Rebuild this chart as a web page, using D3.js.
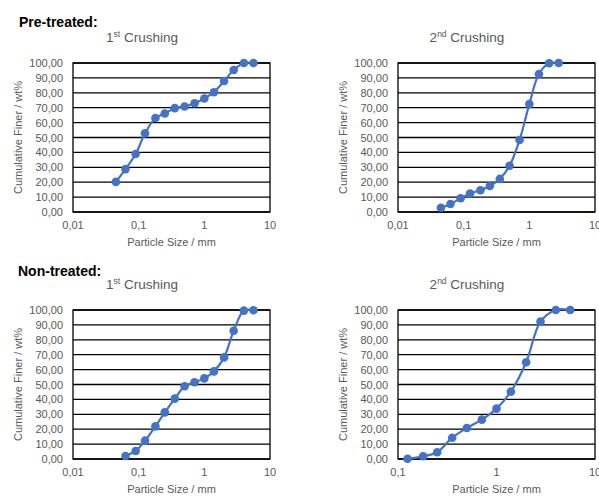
<!DOCTYPE html>
<html>
<head>
<meta charset="utf-8">
<script src="https://cdn.jsdelivr.net/npm/d3@7"></script>
<style>
  body { margin: 0; background: #fff; }
  text { font-family: "Liberation Sans", Arial, sans-serif; }
</style>
</head>
<body>
<div class="sieve"></div>
<script>
var width = 599,
    height = 498,
    plotW = 197,
    plotH = 149;

// sieve sizes (mm) and cumulative finer (wt%) for each panel
var pre1Size = [0.045, 0.063, 0.09, 0.125, 0.18, 0.25, 0.355, 0.5, 0.71, 1, 1.4, 2, 2.8, 4, 5.6];
var pre1Val  = [20.2, 28.8, 38.9, 52.8, 63.1, 66.1, 69.7, 70.8, 73.0, 76.2, 80.4, 87.9, 95.3, 100, 100];

var pre2Size = [0.045, 0.063, 0.09, 0.125, 0.18, 0.25, 0.355, 0.5, 0.71, 1, 1.4, 2, 2.8];
var pre2Val  = [2.9, 5.4, 9.2, 12.4, 14.6, 17.5, 22.2, 31.0, 48.3, 72.4, 92.6, 99.8, 100];

var non1Size = [0.063, 0.09, 0.125, 0.18, 0.25, 0.355, 0.5, 0.71, 1, 1.4, 2, 2.8, 4, 5.6];
var non1Val  = [2.0, 5.4, 12.3, 21.9, 31.3, 40.5, 48.8, 51.5, 54.1, 58.8, 68.2, 86.1, 99.6, 99.8];

var non2Size = [0.125, 0.18, 0.25, 0.355, 0.5, 0.71, 1, 1.4, 2, 2.8, 4, 5.6];
var non2Val  = [0.2, 1.8, 4.5, 14.3, 20.8, 26.4, 33.8, 45.2, 64.9, 92.2, 100, 100];

var yTicks = [0, 10, 20, 30, 40, 50, 60, 70, 80, 90, 100];
var xTicksWide = [0.01, 0.1, 1, 10];
var xTicksNarrow = [0.1, 1, 10];

var sections = ["Pre-treated:", "Non-treated:"];

var panels = [
    {ord: "1", sup: "st", size: pre1Size, val: pre1Val, dom: [0.01, 10], ticks: xTicksWide, left: 73, top: 63},
    {ord: "2", sup: "nd", size: pre2Size, val: pre2Val, dom: [0.01, 10], ticks: xTicksWide, left: 398, top: 63},
    {ord: "1", sup: "st", size: non1Size, val: non1Val, dom: [0.01, 10], ticks: xTicksWide, left: 73, top: 310},
    {ord: "2", sup: "nd", size: non2Size, val: non2Val, dom: [0.1, 10], ticks: xTicksNarrow, left: 398, top: 310}
];

var locale = d3.formatLocale({decimal: ",", thousands: ".", grouping: [3], currency: ["", ""]});
var fmtY = locale.format(".2f");
var fmtX = locale.format("~g");

var grey = "#595959",
    blue = "#4472C4";

var svg = d3.select(".sieve").append("svg")
    .attr("width", width)
    .attr("height", height);

svg.append("text")
    .attr("x", 19).attr("y", 26.5)
    .style("font-size", "14px").style("font-weight", "bold")
    .attr("fill", "#000")
    .text(sections[0]);
svg.append("text")
    .attr("x", 18).attr("y", 275.5)
    .style("font-size", "14px").style("font-weight", "bold")
    .attr("fill", "#000")
    .text(sections[1]);

panels.forEach(function (p) {
    var g = svg.append("g").attr("transform", "translate(" + p.left + "," + p.top + ")");

    var x = d3.scaleLog().domain(p.dom).range([0, plotW]);
    var y = d3.scaleLinear().domain([0, 100]).range([plotH, 0]);

    // title
    var t = g.append("text")
        .attr("x", 69).attr("y", -21.5)
        .attr("text-anchor", "middle")
        .attr("fill", grey)
        .style("font-size", "13.5px");
    t.append("tspan").text(p.ord);
    t.append("tspan").attr("dy", -4.5).style("font-size", "8.5px").text(p.sup);
    t.append("tspan").attr("dy", 4.5).text(" Crushing");

    // gridlines
    g.selectAll(".grid")
        .data(yTicks)
        .enter()
        .append("line")
        .attr("x1", 0).attr("x2", plotW)
        .attr("y1", function (d) { return y(d); })
        .attr("y2", function (d) { return y(d); })
        .attr("stroke", "#000")
        .attr("stroke-width", 1.3);

    g.append("rect")
        .attr("width", plotW).attr("height", plotH)
        .attr("fill", "none").attr("stroke", "#000").attr("stroke-width", 1.3);

    // y tick labels
    g.selectAll(".ylab")
        .data(yTicks)
        .enter()
        .append("text")
        .attr("x", -10)
        .attr("y", function (d) { return y(d) + 4; })
        .attr("text-anchor", "end")
        .attr("fill", grey)
        .style("font-size", "11px")
        .text(function (d) { return fmtY(d); });

    // x tick labels
    g.selectAll(".xlab")
        .data(p.ticks)
        .enter()
        .append("text")
        .attr("x", function (d) { return x(d); })
        .attr("y", plotH + 17)
        .attr("text-anchor", "middle")
        .attr("fill", grey)
        .style("font-size", "11px")
        .text(function (d) { return fmtX(d); });

    g.append("text")
        .attr("x", plotW / 2).attr("y", plotH + 34)
        .attr("text-anchor", "middle")
        .attr("fill", grey)
        .style("font-size", "11px")
        .text("Particle Size / mm");

    g.append("text")
        .attr("transform", "translate(-51," + (plotH / 2) + ") rotate(-90)")
        .attr("text-anchor", "middle")
        .attr("fill", grey)
        .style("font-size", "11px")
        .text("Cumulative Finer / wt%");

    var pts = p.size.map(function (s, i) { return [s, p.val[i]]; });

    var line = d3.line()
        .x(function (d) { return x(d[0]); })
        .y(function (d) { return y(d[1]); })
        .curve(d3.curveCatmullRom.alpha(0.5));

    g.append("path")
        .datum(pts)
        .attr("d", line)
        .attr("fill", "none")
        .attr("stroke", blue)
        .attr("stroke-width", 2.2);

    g.selectAll(".pt")
        .data(pts)
        .enter()
        .append("circle")
        .attr("cx", function (d) { return x(d[0]); })
        .attr("cy", function (d) { return y(d[1]); })
        .attr("r", 4.3)
        .attr("fill", blue);
});
</script>
</body>
</html>
